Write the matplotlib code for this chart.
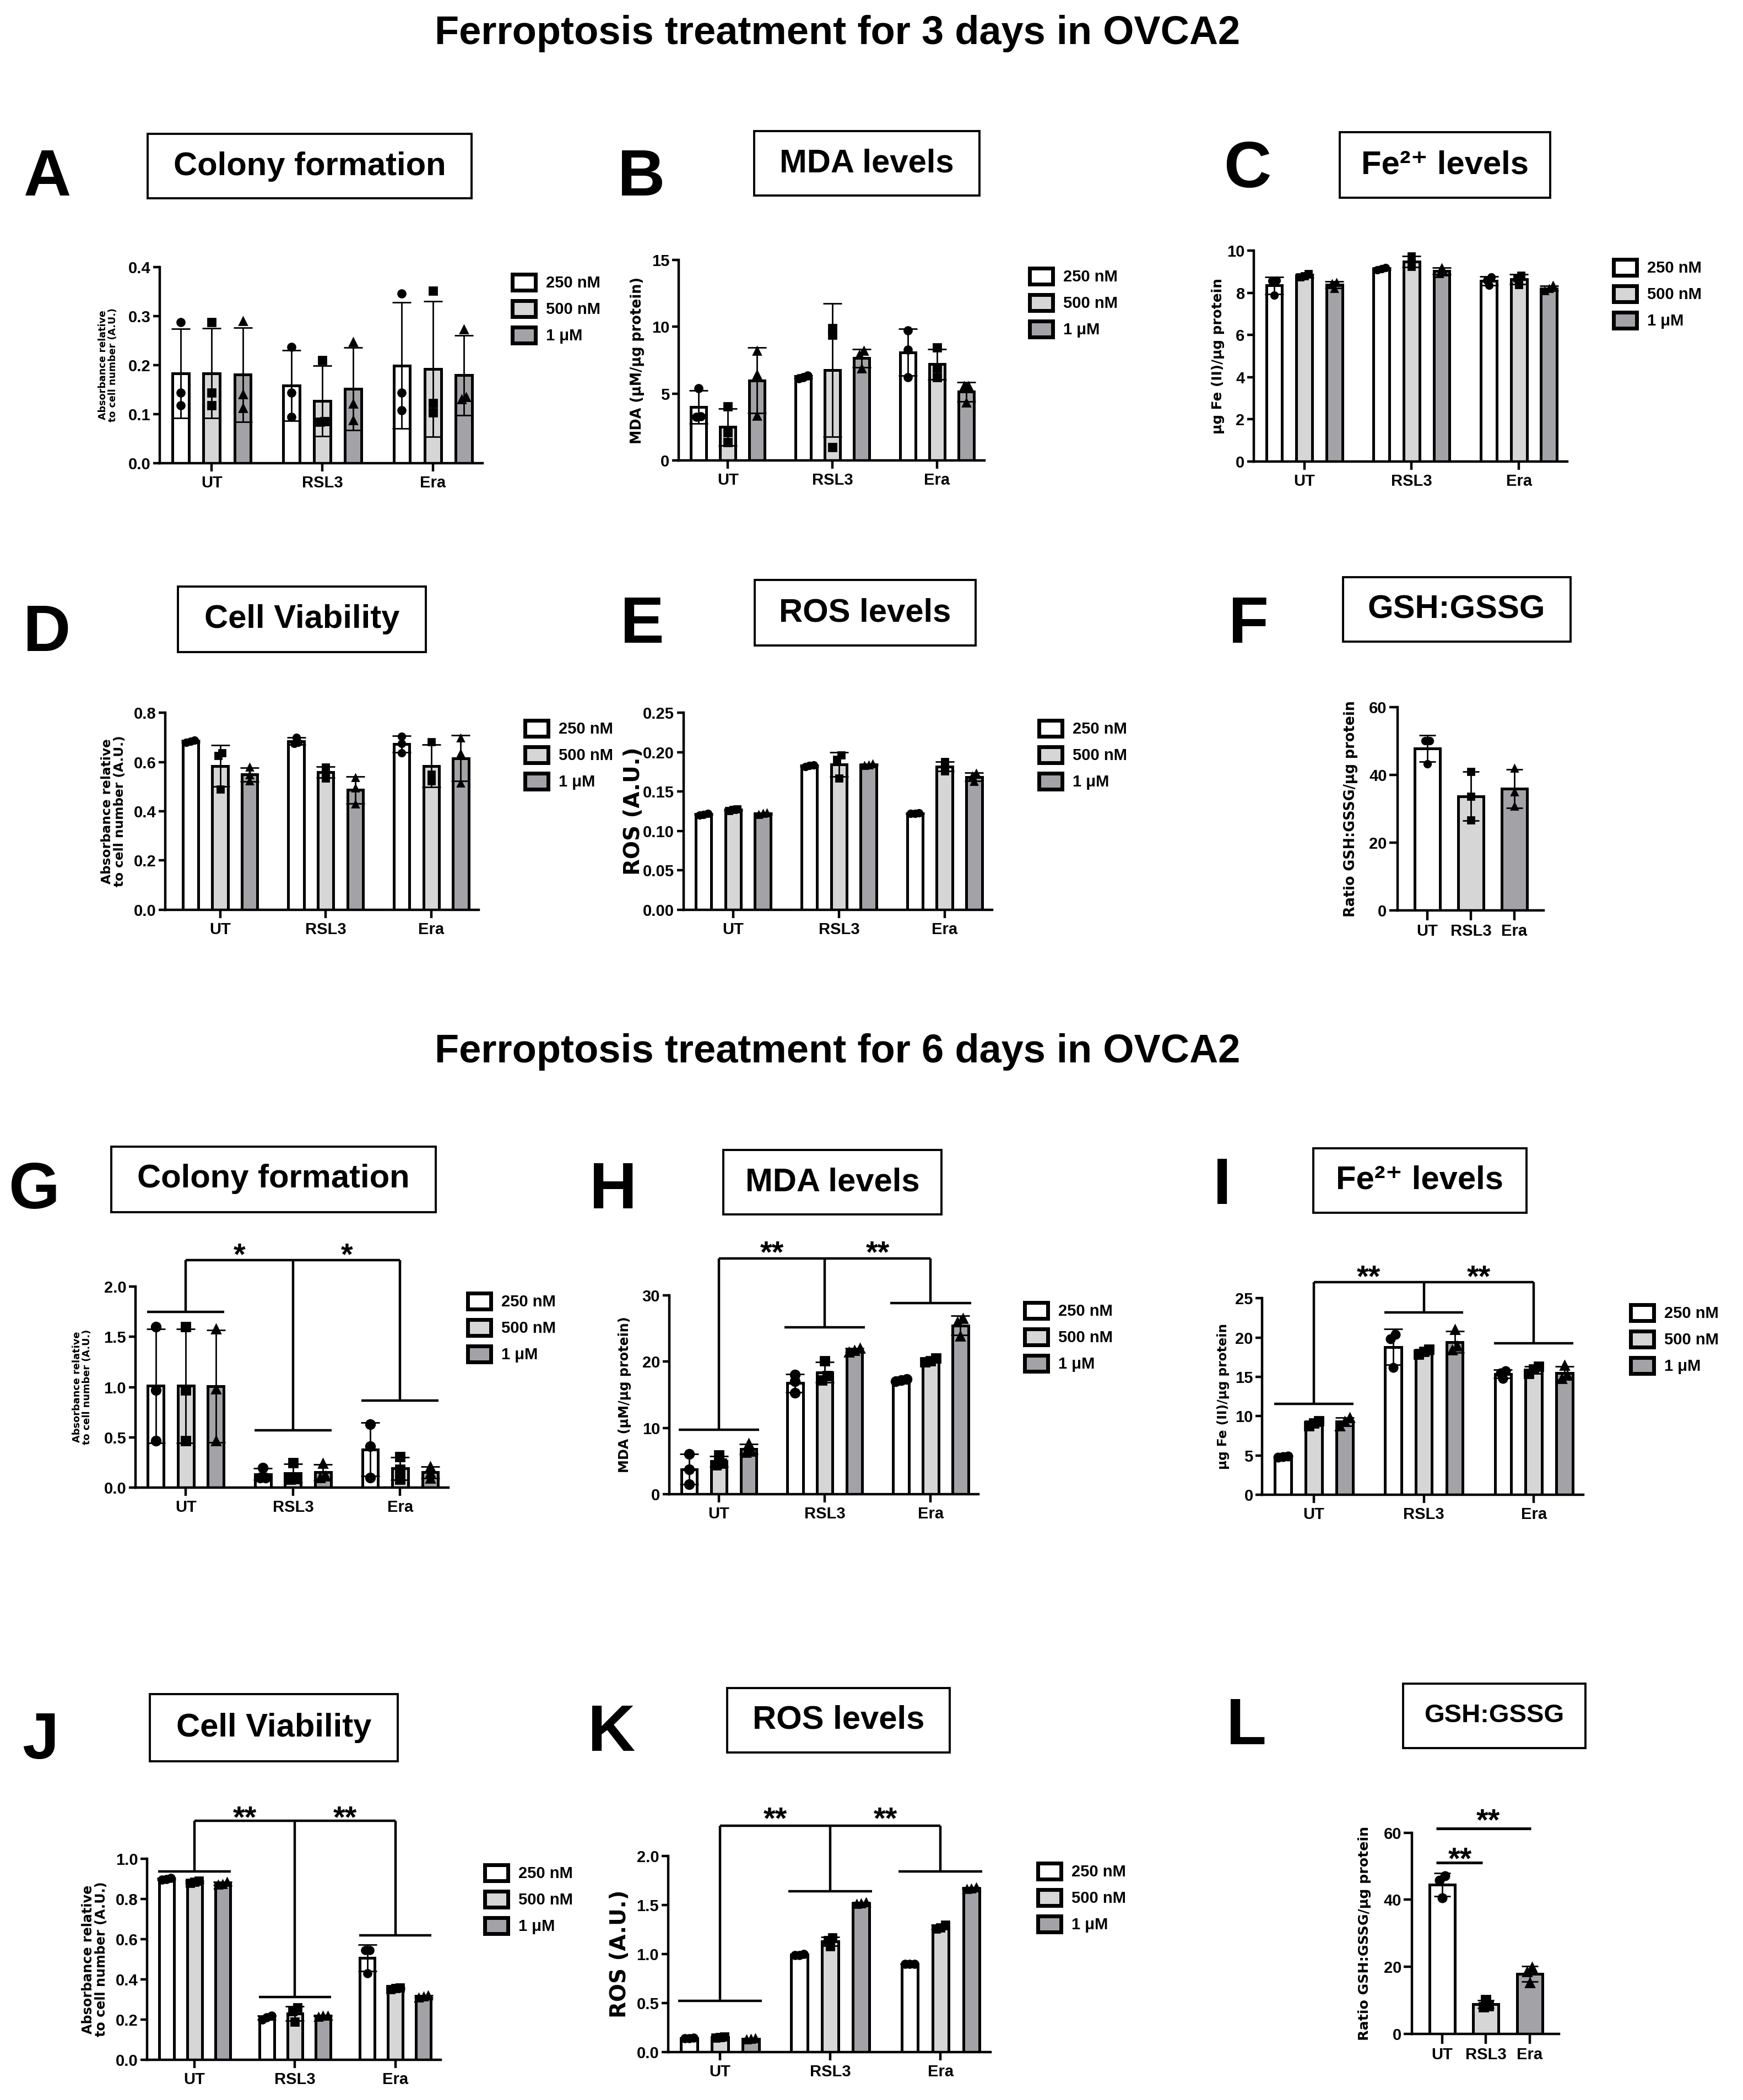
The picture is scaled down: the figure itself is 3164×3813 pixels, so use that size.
import numpy as np
import matplotlib
matplotlib.use("Agg")
import matplotlib.pyplot as plt
from matplotlib.patches import Patch, Rectangle
from matplotlib.ticker import FormatStrFormatter

W, H = 3164, 3813
DPI = 200

plt.rcParams['font.family'] = ['Liberation Sans', 'DejaVu Sans']
plt.rcParams['font.weight'] = 'bold'

groups = ["UT", "RSL3", "Era"]
doses = ["250 nM", "500 nM", "1 μM"]
fills = ["white", "#d6d6d6", "#a3a3a7"]
marks = ["o", "s", "^"]

# replicate values, [group][dose][replicate]  -- 3 days
colony_3d = [[[0.287, 0.144, 0.118], [0.288, 0.144, 0.118], [0.290, 0.140, 0.112]],
             [[0.237, 0.144, 0.095], [0.210, 0.086, 0.085], [0.247, 0.121, 0.088]],
             [[0.346, 0.144, 0.108], [0.351, 0.123, 0.103], [0.273, 0.135, 0.130]]]
mda_3d = [[[5.42, 3.30, 3.25], [4.05, 2.13, 1.37], [8.19, 6.45, 3.36]],
          [[6.35, 6.25, 6.15], [9.90, 9.40, 1.00], [8.20, 7.90, 6.90]],
          [[9.74, 8.30, 6.24], [8.44, 6.93, 6.24], [5.56, 5.56, 4.32]]]
fe_3d = [[[8.60, 8.58, 7.88], [8.90, 8.80, 8.75], [8.50, 8.45, 8.20]],
         [[9.10, 9.15, 9.20], [9.75, 9.45, 9.25], [9.20, 9.00, 8.90]],
         [[8.75, 8.60, 8.35], [8.84, 8.70, 8.40], [8.35, 8.20, 8.10]]]
via_3d = [[[0.688, 0.684, 0.680], [0.638, 0.627, 0.489], [0.578, 0.548, 0.522]],
          [[0.701, 0.680, 0.675], [0.580, 0.560, 0.535], [0.537, 0.493, 0.429]],
          [[0.705, 0.675, 0.638], [0.683, 0.549, 0.522], [0.698, 0.634, 0.515]]]
ros_3d = [[[0.121, 0.120, 0.122], [0.128, 0.126, 0.127], [0.123, 0.121, 0.122]],
          [[0.183, 0.182, 0.184], [0.196, 0.191, 0.167], [0.185, 0.184, 0.183]],
          [[0.123, 0.122, 0.122], [0.188, 0.182, 0.176], [0.173, 0.170, 0.163]]]
gsh_3d = [[50.1, 50.1, 43.3], [41.0, 33.6, 26.6], [42.0, 35.0, 30.7]]

# 6 days
colony_6d = [[[1.60, 0.97, 0.466], [1.60, 0.97, 0.466], [1.58, 0.98, 0.466]],
             [[0.20, 0.10, 0.10], [0.25, 0.09, 0.085], [0.24, 0.115, 0.10]],
             [[0.63, 0.41, 0.10], [0.31, 0.18, 0.085], [0.21, 0.15, 0.095]]]
mda_6d = [[[6.1, 3.8, 1.5], [5.9, 4.7, 4.4], [7.7, 6.5, 6.3]],
          [[18.0, 17.0, 15.3], [20.1, 17.9, 17.2], [22.0, 21.7, 21.4]],
          [[17.4, 17.2, 17.0], [20.5, 20.1, 19.9], [26.5, 26.0, 23.8]]]
fe_6d = [[[4.95, 4.85, 4.75], [9.4, 9.1, 8.8], [9.8, 9.3, 8.8]],
         [[20.4, 19.8, 16.2], [18.5, 18.2, 17.9], [21.0, 18.9, 18.4]],
         [[15.8, 15.5, 14.8], [16.3, 16.0, 15.4], [16.45, 15.2, 14.8]]]
via_6d = [[[0.905, 0.900, 0.895], [0.890, 0.885, 0.880], [0.885, 0.875, 0.870]],
          [[0.220, 0.210, 0.200], [0.260, 0.240, 0.190], [0.220, 0.220, 0.215]],
          [[0.545, 0.545, 0.430], [0.360, 0.355, 0.350], [0.320, 0.315, 0.310]]]
ros_6d = [[[0.145, 0.140, 0.140], [0.155, 0.150, 0.145], [0.140, 0.135, 0.130]],
          [[0.99, 0.99, 1.00], [1.17, 1.14, 1.08], [1.53, 1.52, 1.51]],
          [[0.90, 0.90, 0.90], [1.30, 1.27, 1.26], [1.68, 1.67, 1.665]]]
gsh_6d = [[47.2, 45.8, 40.6], [10.1, 8.4, 8.0], [19.9, 18.5, 15.3]]

# significance brackets: level over each group
colony_6d_br = [1.745, 0.571, 0.866]
mda_6d_br = [9.75, 25.2, 28.83]
fe_6d_br = [11.58, 23.2, 19.3]
via_6d_br = [0.938, 0.311, 0.619]
ros_6d_br = [0.52, 1.643, 1.845]

fig = plt.figure(figsize=(W / DPI, H / DPI), dpi=DPI)


def new_axes(left, right, top, zero):
    return fig.add_axes([left / W, 1 - zero / H, (right - left) / W, (zero - top) / H])


def axis_style(ax, ymax, ystep, fmt, ylen=4.5, xlen=5.4):
    ax.set_ylim(0, ymax)
    ax.set_yticks(np.arange(0, ymax + ystep / 2, ystep))
    ax.yaxis.set_major_formatter(FormatStrFormatter(fmt))
    ax.set_xticks(range(3))
    ax.set_xticklabels(groups)
    for s in ('top', 'right'):
        ax.spines[s].set_visible(False)
    for s in ('left', 'bottom'):
        ax.spines[s].set_linewidth(1.6)
    ax.tick_params(axis='y', length=ylen, width=1.6, pad=1.5, labelsize=10.5)
    ax.tick_params(axis='x', length=xlen, width=1.6, pad=2.5, labelsize=10.5)
    ax.patch.set_visible(False)


def spread(ax, vals, ms):
    # side-by-side placement of overlapping points
    pos = ax.get_position()
    x0, x1 = ax.get_xlim()
    y0, y1 = ax.get_ylim()
    xpx = pos.width * W / (x1 - x0)
    ypx = pos.height * H / (y1 - y0)
    d = ms * DPI / 72
    order = np.argsort(vals)
    clusters = [[order[0]]]
    for i in order[1:]:
        if (vals[i] - vals[clusters[-1][-1]]) * ypx < d * 0.6:
            clusters[-1].append(i)
        else:
            clusters.append([i])
    off = np.zeros(len(vals))
    for c in clusters:
        for k, i in enumerate(c):
            off[i] = (k - (len(c) - 1) / 2) * d * 0.6 / xpx
    return off


def draw_bar(ax, x, vals, width, fill, mark, ms, cap):
    vals = np.array(vals, dtype=float)
    mean = vals.mean()
    sd = vals.std(ddof=1)
    ax.bar(x, mean, width, color=fill, edgecolor='black', linewidth=1.8, zorder=2)
    ax.errorbar(x, mean, yerr=sd, fmt='none', ecolor='black', elinewidth=1.0,
                capsize=cap, capthick=1.0, zorder=3)
    ax.plot(x + spread(ax, vals, ms), vals, linestyle='none', marker=mark, color='black',
            markersize=ms, zorder=4, clip_on=False)


def grouped(ax, pts, ymax, ystep, fmt, ms, lo=-0.47, hi=2.45):
    ax.set_xlim(lo, hi)
    axis_style(ax, ymax, ystep, fmt)
    for g in range(3):
        for d in range(3):
            draw_bar(ax, g + (d - 1) * 0.28, pts[g][d], 0.148, fills[d], marks[d], ms, 6)


def single(ax, pts, ymax, ystep, fmt, ms):
    ax.set_xlim(-0.69, 2.67)
    axis_style(ax, ymax, ystep, fmt, ylen=5.4, xlen=6.3)
    for g in range(3):
        draw_bar(ax, g, pts[g], 0.58, fills[g], marks[g], ms, 5.5)


def ylabel(ax, text, xc, size):
    pos = ax.get_position()
    lab = ax.set_ylabel(text, fontsize=size, fontfamily=['DejaVu Sans'], fontweight='bold',
                        linespacing=1.0)
    lab.set_va('center')
    ax.yaxis.set_label_coords((xc / W - pos.x0) / pos.width, 0.5)


def legend(ax, x, y):
    handles = [Patch(facecolor=fills[i], edgecolor='black', linewidth=2.5) for i in range(3)]
    ax.legend(handles, doses, loc='upper left', bbox_to_anchor=(x / W, 1 - y / H),
              bbox_transform=fig.transFigure, frameon=False, fontsize=10.5,
              handlelength=1.45, handleheight=1.15, handletextpad=0.65, labelspacing=0.6,
              borderpad=0, borderaxespad=0)


def brackets(ax, levels, top, star, star_y, half=0.36, fs=20):
    kw = dict(color='black', lw=1.6, clip_on=False, solid_capstyle='butt')
    for g, y in enumerate(levels):
        ax.plot([g - half, g + half], [y, y], **kw)
        ax.plot([g, g], [y, top], **kw)
    ax.plot([0, 2], [top, top], **kw)
    for xs in (0.5, 1.5):
        ax.annotate(star, (xs, star_y), xytext=(0, -0.58 * fs), textcoords='offset points',
                    ha='center', va='baseline', fontsize=fs, annotation_clip=False)


def title_box(cx, cy, w, h, text, fs=21.5):
    fig.add_artist(Rectangle(((cx - w / 2) / W, 1 - (cy + h / 2) / H), w / W, h / H,
                             transform=fig.transFigure, fill=False, lw=1.4, edgecolor='black'))
    fig.text(cx / W, 1 - cy / H, text, ha='center', va='center', fontsize=fs, fontweight='bold')


def letter(x, y, s):
    fig.text(x / W, 1 - y / H, s, ha='center', va='baseline', fontsize=43, fontweight='bold')


fig.text(1520 / W, 1 - 80 / H, "Ferroptosis treatment for 3 days in OVCA2",
         ha='center', va='baseline', fontsize=26, fontweight='bold')
fig.text(1520 / W, 1 - 1929 / H, "Ferroptosis treatment for 6 days in OVCA2",
         ha='center', va='baseline', fontsize=26, fontweight='bold')

fe_title = "Fe²⁺ levels"
title_box(562, 302, 589, 117, "Colony formation")
title_box(1573, 297, 409, 117, "MDA levels")
title_box(2623, 300, 382, 119, fe_title)
title_box(548, 1125, 450, 119, "Cell Viability")
title_box(1570, 1113, 401, 119, "ROS levels")
title_box(2644, 1107, 413, 117, "GSH:GSSG")
title_box(496, 2141, 589, 119, "Colony formation")
title_box(1511, 2147, 396, 117, "MDA levels")
title_box(2577, 2143, 387, 117, fe_title)
title_box(497, 3137, 450, 122, "Cell Viability")
title_box(1522, 3123, 404, 117, "ROS levels")
title_box(2712, 3115, 331, 117, "GSH:GSSG", fs=17)

for s, x, y in [("A", 85, 355), ("B", 1164, 355), ("C", 2264, 340),
                ("D", 85, 1182), ("E", 1166, 1167), ("F", 2267, 1167),
                ("G", 62, 2194), ("H", 1113, 2194), ("I", 2219, 2186),
                ("J", 73, 3193), ("K", 1110, 3179), ("L", 2262, 3167)]:
    letter(x, y, s)

abs_label = "Absorbance relative\nto cell number (A.U.)"
mda_label = "MDA (μM/μg protein)"
fe_label = "μg Fe (II)/μg protein"
ros_label = "ROS (A.U.)"
gsh_label = "Ratio GSH:GSSG/μg protein"

# A
ax = new_axes(290, 876, 484.7, 841.3)
grouped(ax, colony_3d, 0.4, 0.1, '%.1f', 5)
ylabel(ax, abs_label, 196, 6.3)
legend(ax, 929.5, 498)

# B
ax = new_axes(1232, 1786.5, 472, 836.3)
grouped(ax, mda_3d, 15, 5, '%d', 5)
ylabel(ax, mda_label, 1157, 9.2)
legend(ax, 1868.6, 487)

# C
ax = new_axes(2276, 2845, 455.3, 838)
grouped(ax, fe_3d, 10, 2, '%d', 4.5)
ylabel(ax, fe_label, 2211, 8.9)
legend(ax, 2929, 471)

# D
ax = new_axes(300, 869, 1294.3, 1651.7)
grouped(ax, via_3d, 0.8, 0.2, '%.1f', 4.5, lo=-0.52)
ylabel(ax, abs_label, 206, 8.4)
legend(ax, 953, 1308)

# E
ax = new_axes(1240.8, 1801, 1294.3, 1651.7)
grouped(ax, ros_3d, 0.25, 0.05, '%.2f', 4.5)
ylabel(ax, ros_label, 1150, 14)
legend(ax, 1886, 1308)

# F
ax = new_axes(2536.7, 2801.7, 1284.3, 1652.7)
single(ax, gsh_3d, 60, 20, '%d', 4.5)
ylabel(ax, gsh_label, 2452, 9.2)

# G
ax = new_axes(245.9, 814, 2335.8, 2701.2)
grouped(ax, colony_6d, 2.0, 0.5, '%.1f', 6)
ylabel(ax, abs_label, 149, 6.4)
legend(ax, 849, 2348)
brackets(ax, colony_6d_br, 2.263, "*", 2.40)

# H
ax = new_axes(1214.7, 1776, 2351.7, 2713.4)
grouped(ax, mda_6d, 30, 10, '%d', 6)
ylabel(ax, mda_label, 1134, 8.6)
legend(ax, 1860, 2365)
brackets(ax, mda_6d_br, 35.55, "**", 37.7, half=0.38)

# I
ax = new_axes(2291.3, 2874, 2357.2, 2714.2)
grouped(ax, fe_6d, 25, 5, '%d', 5.5)
ylabel(ax, fe_label, 2221, 8.4)
legend(ax, 2960, 2369)
brackets(ax, fe_6d_br, 27.07, "**", 28.76)

# J
ax = new_axes(267.4, 799.8, 3375, 3740)
grouped(ax, via_6d, 1.0, 0.2, '%.1f', 5)
ylabel(ax, abs_label, 172, 8.6)
legend(ax, 880, 3386)
brackets(ax, via_6d_br, 1.19, "**", 1.247)

# K
ax = new_axes(1212.9, 1797.5, 3370.2, 3726)
grouped(ax, ros_6d, 2.0, 0.5, '%.1f', 5)
ylabel(ax, ros_label, 1125, 14)
legend(ax, 1884, 3383)
brackets(ax, ros_6d_br, 2.31, "**", 2.465, half=0.38)

# L
ax = new_axes(2563.3, 2830, 3327.8, 3692.8)
single(ax, gsh_6d, 60, 20, '%d', 5.5)
ylabel(ax, gsh_label, 2477, 9.1)
kw = dict(color='black', lw=1.8, clip_on=False, solid_capstyle='butt')
ax.plot([-0.14, 0.92], [51.1, 51.1], **kw)
ax.plot([-0.14, 2.03], [61.25, 61.25], **kw)
for xs, ys in [(0.41, 54.7), (1.05, 66.2)]:
    ax.annotate("**", (xs, ys), xytext=(0, -0.58 * 20), textcoords='offset points',
                ha='center', va='baseline', fontsize=20, annotation_clip=False)

fig.savefig("out.png", dpi=DPI, facecolor='white')
